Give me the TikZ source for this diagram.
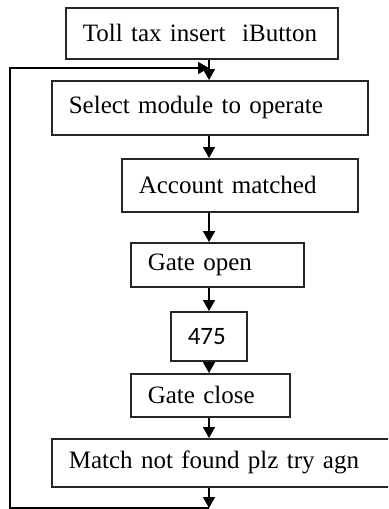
\documentclass[tikz,border=0pt]{standalone}
\usepackage{fontspec}
\setmainfont{Liberation Serif}
\newfontfamily\numfont{Carlito}
\usetikzlibrary{arrows.meta}

\tikzset{
  flowbox/.style={draw=black!85,line width=0.8pt,rectangle,anchor=north west,
    align=left,inner xsep=8.5pt,inner ysep=0pt,
    font=\fontsize{12.5}{15}\selectfont},
  flowarrow/.style={line width=0.8pt,-{Triangle[length=5.5pt,width=6pt]}}
}

\begin{document}
\begin{tikzpicture}[x=0.5pt,y=-0.5pt]
            \useasboundingbox (0,0) rectangle (388,509);
            \clip (0,0) rectangle (388,509);

            \node[flowbox,text width=119pt,minimum height=25.5pt] (toll) at (65,7) {Toll tax insert\ \ iButton};
            \node[flowbox,text width=141pt,minimum height=27pt] (select) at (51,80) {Select module to operate};
            \node[flowbox,text width=101pt,minimum height=26.5pt] (account) at (121,158) {Account matched};
            \node[flowbox,text width=69.5pt,minimum height=22pt] (open) at (130,242) {Gate open};
            \node[flowbox,text width=21pt,minimum height=24.5pt] (amount) at (170,311) {\numfont 475};
            \node[flowbox,text width=62.5pt,minimum height=21.5pt] (close) at (130,373) {Gate close};
            \node[flowbox,text width=155.5pt,minimum height=24pt] (nomatch) at (51,438) {Match not found plz try agn};

            \coordinate (axis) at (209,0);
            \coordinate (join) at (209,68);
            \coordinate (leftTop) at (10,68);
            \coordinate (leftBot) at (10,508);
            \coordinate (bot) at (209,508);

            \draw[flowarrow] (toll.south -| axis) -- (select.north -| axis);
            \draw[flowarrow] (select.south -| axis) -- (account.north -| axis);
            \draw[flowarrow] (account.south -| axis) -- (open.north -| axis);
            \draw[flowarrow] (open.south -| axis) -- (amount.north -| axis);
            \draw[flowarrow] (amount.south -| axis) -- (close.north -| axis);
            \draw[flowarrow] (close.south -| axis) -- (nomatch.north -| axis);
            \draw[flowarrow] (nomatch.south -| axis) -- (bot);
            \draw[flowarrow] (bot) -- (leftBot) -- (leftTop) -- (join);
        \end{tikzpicture}
\end{document}
